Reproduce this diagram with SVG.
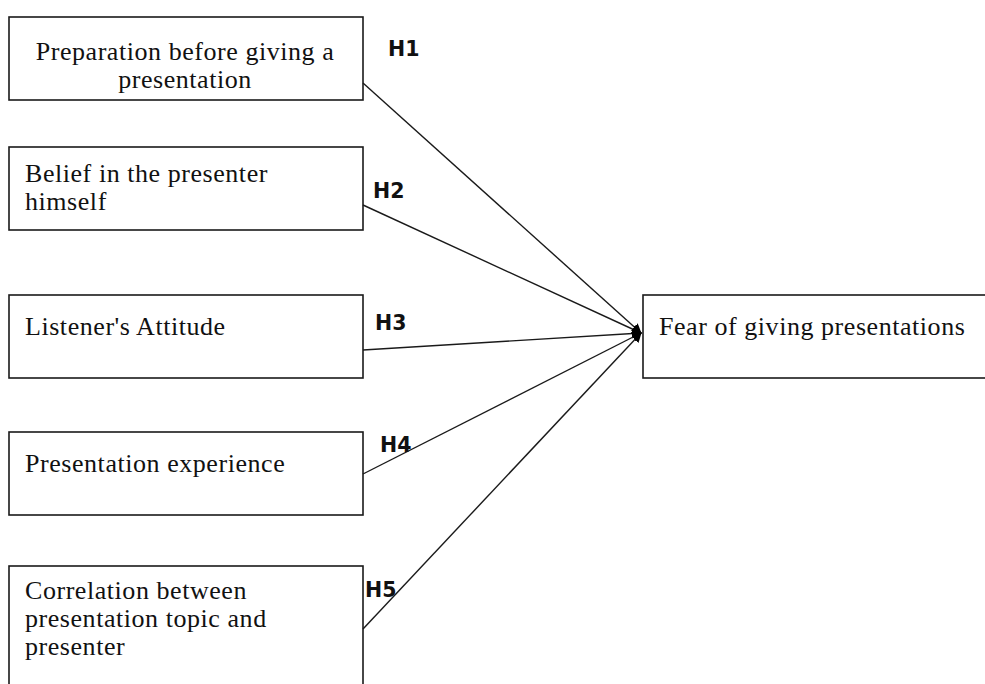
<svg xmlns="http://www.w3.org/2000/svg" width="985" height="684" viewBox="0 0 985 684">
<style>
.box{fill:#fff;stroke:#1a1a1a;stroke-width:1.6}
.t{font-family:"Liberation Serif","Times New Roman",serif;font-size:26px;letter-spacing:0.55px;fill:#111}
.h{font-family:"DejaVu Sans","Liberation Sans",sans-serif;font-weight:bold;font-size:20.5px;fill:#111}
.c{stroke:#1a1a1a;stroke-width:1.4;fill:none;marker-end:url(#ah)}
</style>
<defs>
<marker id="ah" viewBox="0 0 10 10" refX="9" refY="5" markerWidth="10" markerHeight="10" markerUnits="userSpaceOnUse" orient="auto">
<path d="M0,0 L10,5 L0,10 z" fill="#000"/>
</marker>
</defs>
<rect width="985" height="684" fill="#fff"/>
<g id="n1"><rect class="box" x="9" y="17" width="354" height="83"/>
<text class="t" x="185" y="60" text-anchor="middle">Preparation before giving a</text>
<text class="t" x="185" y="88" text-anchor="middle">presentation</text></g>
<g id="n2"><rect class="box" x="9" y="147" width="354" height="83"/>
<text class="t" x="25" y="182">Belief in the presenter</text>
<text class="t" x="25" y="210">himself</text></g>
<g id="n3"><rect class="box" x="9" y="295" width="354" height="83"/>
<text class="t" x="25" y="335">Listener's Attitude</text></g>
<g id="n4"><rect class="box" x="9" y="432" width="354" height="83"/>
<text class="t" x="25" y="472">Presentation experience</text></g>
<g id="n5"><rect class="box" x="9" y="566" width="354" height="140"/>
<text class="t" x="25" y="599">Correlation between</text>
<text class="t" x="25" y="627">presentation topic and</text>
<text class="t" x="25" y="655">presenter</text></g>
<g id="n6"><rect class="box" x="643" y="295" width="350" height="83"/>
<text class="t" x="659" y="335">Fear of giving presentations</text></g>
<g id="connectors">
<path class="c" d="M363,83 L641,333"/>
<path class="c" d="M363,205 L641,333"/>
<path class="c" d="M363,350 L641,333"/>
<path class="c" d="M363,474 L641,333"/>
<path class="c" d="M363,629 L641,333"/>
<text class="h" x="388" y="56">H1</text>
<text class="h" x="373" y="198">H2</text>
<text class="h" x="375" y="330">H3</text>
<text class="h" x="380" y="452">H4</text>
<text class="h" x="365" y="597">H5</text>
</g>
</svg>
